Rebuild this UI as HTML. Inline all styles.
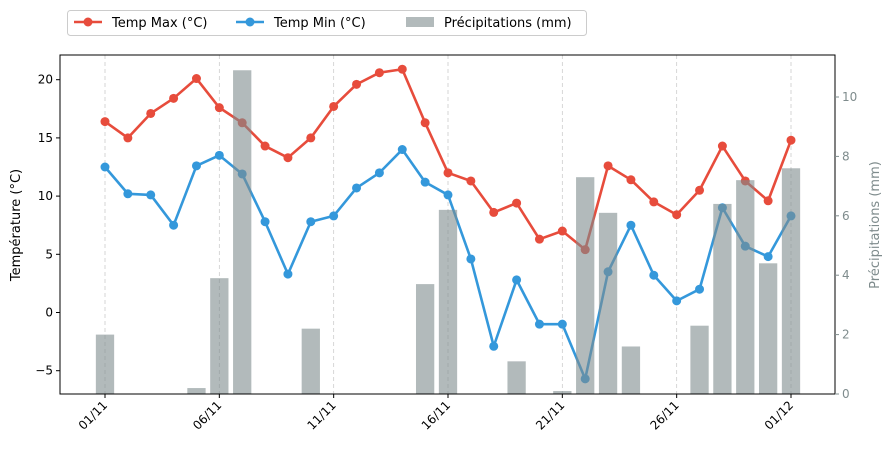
<!DOCTYPE html>
<html><head><meta charset="utf-8"><style>
body{margin:0;background:#fff;font-family:"Liberation Sans","DejaVu Sans",sans-serif}
svg text{font-family:"DejaVu Sans","Liberation Sans",sans-serif}
</style></head><body>
<svg id="c" width="892" height="452" xmlns="http://www.w3.org/2000/svg"></svg>
<script>
const days=["01/11","02/11","03/11","04/11","05/11","06/11","07/11","08/11","09/11","10/11","11/11","12/11","13/11","14/11","15/11","16/11","17/11","18/11","19/11","20/11","21/11","22/11","23/11","24/11","25/11","26/11","27/11","28/11","29/11","30/11","01/12"];
const tmax=[16.4,15.0,17.1,18.4,20.1,17.6,16.3,14.3,13.3,15.0,17.7,19.6,20.6,20.9,16.3,12.0,11.3,8.6,9.4,6.3,7.0,5.4,12.6,11.4,9.5,8.4,10.5,14.3,11.3,9.6,14.8];
const tmin=[12.5,10.2,10.1,7.5,12.6,13.5,11.9,7.8,3.3,7.8,8.3,10.7,12.0,14.0,11.2,10.1,4.6,-2.9,2.8,-1.0,-1.0,-5.7,3.5,7.5,3.2,1.0,2.0,9.0,5.7,4.8,8.3];
const precip=[2.0,0,0,0,0.2,3.9,10.9,0,0,2.2,0,0,0,0,3.7,6.2,0,0,1.1,0,0.1,7.3,6.1,1.6,0,0,2.3,6.4,7.2,4.4,7.6];
const xTickIdx=[0,5,10,15,20,25,30];
const yTicks=[-5,0,5,10,15,20];
const y2Ticks=[0,2,4,6,8,10];

const svg=document.getElementById('c');const NS="http://www.w3.org/2000/svg";
function el(t,a,p){const e=document.createElementNS(NS,t);for(const k in a)e.setAttribute(k,a[k]);(p||svg).appendChild(e);return e;}
const L=60,R=835,T=55,B=394;
const x=i=>105+i*(791-105)/30;
const y=v=>312.5-v*11.64;
const y2=v=>394-v*29.7;

const grid=el('g',{});


xTickIdx.forEach(i=>el('line',{x1:x(i),x2:x(i),y1:T,y2:B,stroke:'#ccc','stroke-dasharray':'4,3','stroke-width':0.8},grid));

function series(data,color,name){
  const g=el('g',{});
  
  
  el('polyline',{points:data.map((v,i)=>x(i)+','+y(v)).join(' '),fill:'none',stroke:color,'stroke-width':2.6,'stroke-linejoin':'round'},g);
  data.forEach((v,i)=>{const c=el('circle',{cx:x(i),cy:y(v),r:4.5,fill:color},g);
    
    });
}
series(tmax,'#e74c3c','temp-max-line');
series(tmin,'#3498db','temp-min-line');

const bars=el('g',{});


const bw=0.8*(791-105)/30;
precip.forEach((v,i)=>{if(v<=0)return;const r=el('rect',{x:x(i)-bw/2,y:y2(v),width:bw,height:B-y2(v),fill:'#7f8c8d','fill-opacity':0.6},bars);
  
  });

el('rect',{x:L,y:T,width:R-L,height:B-T,fill:'none',stroke:'#000','stroke-width':1});

const xa=el('g',{});


xTickIdx.forEach(i=>{el('line',{x1:x(i),x2:x(i),y1:B,y2:B+4,stroke:'#000'},xa);
  const t=el('text',{x:x(i)+3,y:B+12,'font-size':12,'text-anchor':'end',transform:`rotate(-45 ${x(i)+3} ${B+12})`},xa);t.textContent=days[i];});

const ya=el('g',{});


yTicks.forEach(v=>{el('line',{x1:L-4,x2:L,y1:y(v),y2:y(v),stroke:'#000'},ya);
  const t=el('text',{x:L-7,y:y(v)+4,'font-size':12,'text-anchor':'end'},ya);t.textContent=v<0?'−'+(-v):v;});
const yt=el('text',{x:20,y:225,'font-size':13,'text-anchor':'middle',transform:'rotate(-90 20 225)'});
yt.textContent='Température (°C)';

const ya2=el('g',{});


y2Ticks.forEach(v=>{el('line',{x1:R,x2:R+4,y1:y2(v),y2:y2(v),stroke:'#7f8c8d'},ya2);
  const t=el('text',{x:R+7,y:y2(v)+4,'font-size':12,fill:'#7f8c8d'},ya2);t.textContent=v;});
const yt2=el('text',{x:879,y:225,'font-size':13,'text-anchor':'middle',fill:'#7f8c8d',transform:'rotate(-90 879 225)'});
yt2.textContent='Précipitations (mm)';

const lg=el('g',{});


el('rect',{x:67.5,y:10.5,width:519,height:25,rx:3,fill:'#fff',stroke:'#ccc'},lg);
el('line',{x1:74,x2:102,y1:22,y2:22,stroke:'#e74c3c','stroke-width':2.6},lg);el('circle',{cx:88,cy:22,r:4.5,fill:'#e74c3c'},lg);
let t=el('text',{x:112,y:27,'font-size':13},lg);t.textContent='Temp Max (°C)';
el('line',{x1:236,x2:264,y1:22,y2:22,stroke:'#3498db','stroke-width':2.6},lg);el('circle',{cx:250,cy:22,r:4.5,fill:'#3498db'},lg);
t=el('text',{x:274,y:27,'font-size':13},lg);t.textContent='Temp Min (°C)';
el('rect',{x:406,y:17,width:28,height:10,fill:'#7f8c8d','fill-opacity':0.6},lg);
t=el('text',{x:444,y:27,'font-size':13},lg);t.textContent='Précipitations (mm)';
</script>
</body></html>
